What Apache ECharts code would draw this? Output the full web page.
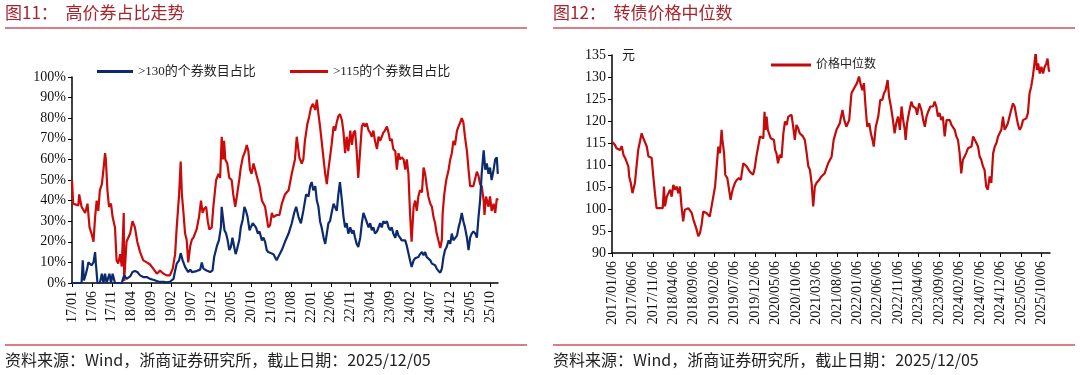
<!DOCTYPE html>
<html><head><meta charset="utf-8">
<script src="https://cdn.jsdelivr.net/npm/echarts@6/dist/echarts.min.js"></script>
<style>html,body{margin:0;padding:0;background:#fff}#c{width:1080px;height:375px}</style>
</head><body><div id="c"></div>
<script>
// x values are months elapsed since 2017/01/06
const leftTickLabels = ['17/01','17/06','17/11','18/04','18/09','19/02','19/07','19/12','20/05','20/10','21/03','21/08','22/01','22/06','22/11','23/04','23/09','24/02','24/07','24/12','25/05','25/10'];
const rightTickLabels = ['2017/01/06','2017/06/06','2017/11/06','2018/04/06','2018/09/06','2019/02/06','2019/07/06','2019/12/06','2020/05/06','2020/10/06','2021/03/06','2021/08/06','2022/01/06','2022/06/06','2022/11/06','2023/04/06','2023/09/06','2024/02/06','2024/07/06','2024/12/06','2025/05/06','2025/10/06'];
const leftYTicks = [0,10,20,30,40,50,60,70,80,90,100];
const rightYTicks = [90,95,100,105,110,115,120,125,130,135];

const share130 = [[0,0],[2.4,0],[2.7,11],[3.0,1.3],[3.5,4.5],[3.9,7.8],[4.1,10],[4.5,9.4],[4.9,8.6],[5.4,10],[5.8,15],[6.0,9.4],[6.4,0],[7.0,0],[7.5,4.5],[7.9,0],[8.3,4.5],[8.7,0],[9.4,4.5],[9.8,0],[10.2,4.5],[10.8,0],[12.5,0],[12.7,1.3],[13.1,3.7],[13.7,2],[14.2,2.8],[14.6,3.2],[15.2,5.3],[15.8,5.8],[16.4,5.3],[17.1,3.7],[17.9,2.9],[18.8,2.9],[19.6,2],[20.4,1.6],[21.3,1],[22.1,0.5],[23.0,0.6],[23.8,0.3],[24.6,0.6],[25.5,2],[25.9,6],[26.3,9.4],[26.9,11],[27.3,14.5],[27.8,11],[28.4,7.8],[28.8,6.5],[29.2,5.3],[29.7,6.5],[30.1,5.3],[30.5,6.1],[31.3,5.8],[32.2,6.5],[32.6,10],[33.0,7],[33.8,6.1],[34.3,7],[34.7,5.3],[35.3,6.1],[35.7,12.6],[36.4,18],[36.9,20.7],[37.4,27],[37.6,37],[37.9,32],[38.3,25.6],[38.7,24],[39.1,20.7],[39.5,16],[39.9,17.5],[40.3,22],[40.7,18],[41.1,14],[41.5,16.7],[42.0,20.7],[42.4,27],[42.9,31],[43.3,37],[43.7,35],[44.1,32],[44.6,25.6],[44.9,27],[45.4,29],[45.8,29],[46.2,27],[46.7,24],[47.1,25],[47.7,20.7],[48.1,22],[48.5,20],[48.9,16],[49.3,15],[49.75,15],[50.6,14],[51.4,11],[51.8,12.6],[52.7,16],[53.5,20],[54.4,24],[55.2,29],[55.8,34],[56.3,37],[56.9,32],[57.5,29],[58.1,35],[58.8,43],[59.4,42],[59.8,47],[60.2,49],[60.6,45],[61.1,47],[61.5,40],[61.9,37],[62.3,30],[62.7,27],[63.2,22],[63.6,19],[64.0,24],[64.4,29],[64.8,30],[65.2,34],[65.7,38.5],[66.1,38.5],[66.5,35],[66.9,43],[67.3,49],[67.8,40],[68.2,32],[68.6,27],[69.0,29],[69.4,24],[69.9,27],[70.3,24],[70.7,25.6],[71.1,22],[71.5,19],[71.9,17.5],[72.4,22],[72.8,29],[73.2,34],[73.6,32],[74.0,32],[74.5,27],[74.9,29],[75.3,25.6],[75.7,27],[76.1,24],[76.6,25],[77.0,27],[77.4,29],[77.8,27],[78.2,30],[78.6,29],[79.1,30],[79.5,27],[79.9,25.6],[80.3,27],[80.7,24],[81.2,22],[81.6,25.6],[82.0,23],[82.4,22],[82.8,20.7],[83.3,21],[83.7,20.7],[84.1,18],[84.5,17.5],[84.9,11],[85.3,7.8],[85.8,11],[86.2,12],[86.6,12.6],[87.0,12.6],[87.4,14],[87.9,15],[88.3,13.4],[88.7,15],[89.1,12.6],[89.5,12],[90.0,11],[90.4,9.4],[90.8,8.6],[91.2,8.6],[91.6,7],[92.0,6],[92.5,5],[92.9,7],[93.3,12.6],[93.7,16],[94.1,17.5],[94.6,20.7],[95.0,19],[95.4,24],[95.8,20.7],[96.2,20],[96.7,23],[97.1,27],[97.5,30],[97.9,34],[98.3,30],[98.7,27],[99.2,22],[99.6,16],[100.0,22],[100.4,24],[100.8,25],[101.3,24],[101.7,22],[102.1,32],[102.5,40],[102.9,53],[103.4,64.4],[103.8,55],[104.2,58],[104.6,53],[105.0,56],[105.4,50],[105.9,55],[106.3,60],[106.7,61],[106.95,53]];

const share115 = [[0,50],[0.3,38.5],[1.6,37.7],[1.8,43],[2.4,37],[3.3,34],[3.9,38.5],[4.4,27],[4.9,24],[5.4,20],[5.8,32],[6.2,40],[6.6,35],[7.0,45],[7.5,48],[7.9,55],[8.3,63],[8.5,60],[8.9,45],[9.3,37],[9.8,38.5],[10.2,32],[10.8,27],[11.2,11],[11.6,9.4],[12.1,14],[12.5,8],[13.0,34],[13.1,1],[13.7,20],[14.6,24],[15.2,30],[15.8,27],[16.4,20],[17.1,15],[17.9,11],[18.8,10],[19.6,9],[20.4,7],[21.3,4.5],[22.1,6],[23.0,4.5],[23.8,3.7],[24.6,3.7],[25.3,7],[25.9,14],[26.3,27],[26.9,43],[27.3,59],[27.6,43],[28.0,34],[28.4,24],[28.8,21],[29.2,10],[29.7,18],[30.1,21],[30.5,22],[31.3,26],[31.9,32],[32.4,40],[32.8,34],[33.2,36],[33.7,37],[34.1,30],[34.5,26],[35.1,27],[35.5,37],[36.2,50],[36.8,53],[37.2,51],[37.6,71],[37.9,60],[38.2,69],[38.5,60],[39.0,58],[39.5,51],[40.1,50],[40.5,43],[41.0,37],[41.4,42],[42.0,50],[42.4,56],[42.9,61],[43.5,64],[43.9,67],[44.3,64],[44.7,55],[45.1,53],[45.6,58],[46.0,55],[46.4,52],[47.1,47],[47.7,40],[48.5,37],[49.3,27],[49.75,28],[50.2,34],[50.6,32],[51.4,33],[52.1,33],[52.7,38.5],[53.5,43],[54.4,45],[55.2,53],[56.0,60],[56.45,71],[57.1,61],[57.7,58],[58.1,60],[58.5,69],[59.1,77],[59.6,81],[60.0,85],[60.5,87],[61.1,84],[61.5,89],[61.9,82],[62.3,76],[62.7,69],[63.2,60],[63.6,53],[64.0,48],[64.4,55],[64.8,61],[65.2,67],[65.7,76],[66.1,74],[66.5,78],[66.9,81],[67.3,82],[67.8,79],[68.2,73],[68.6,63],[69.0,71],[69.4,64],[69.9,74],[70.3,67],[70.7,73],[71.1,74],[71.5,64],[71.9,51],[72.4,65],[72.8,76],[73.2,77.5],[73.6,76],[74.0,77.5],[74.5,74],[74.9,73],[75.3,71],[75.7,74],[76.1,69],[76.6,65],[77.0,71],[77.4,69],[77.8,71],[78.2,73],[78.6,74],[79.1,76],[79.5,73],[79.9,69],[80.3,70],[80.7,65],[81.2,64],[81.6,55],[82.0,63],[82.4,60],[82.8,61],[83.3,60],[83.7,55],[84.1,60],[84.5,53],[84.9,34],[85.3,20],[85.8,37],[86.2,40],[86.6,35],[87.0,42],[87.4,45],[87.9,44],[88.3,56],[88.7,53],[89.1,47],[89.5,42],[90.0,38.5],[90.4,37],[90.8,32],[91.2,29],[91.6,24],[92.0,21],[92.5,17],[92.9,21],[93.1,34],[93.5,43],[94.0,50],[94.6,55],[95.0,60],[95.4,63],[95.8,69],[96.2,67],[96.7,74],[97.1,76],[97.5,78],[97.9,80],[98.3,78],[98.7,71],[99.2,64],[99.6,55],[100.0,47],[100.4,47],[100.8,47],[101.3,51],[101.7,54],[102.1,52],[102.5,48],[102.9,47],[103.4,40],[103.6,33],[104.0,42],[104.6,37],[105.0,42],[105.4,35],[105.9,38.5],[106.3,34],[106.7,41],[106.95,40]];

const medianPrice = [[0,115.3],[0.7,114.6],[1.1,113.8],[1.55,114.2],[1.95,113.4],[2.4,114.3],[2.8,112.3],[3.2,111.6],[3.6,111.2],[4.0,109.7],[4.2,107.4],[4.6,105.9],[5.0,103.6],[5.2,104],[5.6,105.9],[6.0,109.7],[6.4,113.4],[6.8,113],[7.25,117.2],[7.65,116.1],[8.1,116.5],[8.5,114.2],[8.9,112],[9.3,112],[9.7,111.6],[10.1,107.4],[10.5,103.6],[10.9,100.2],[11.3,99.8],[11.9,100.2],[12.4,100.2],[12.7,105.1],[12.95,100.6],[13.4,102.8],[13.8,103.6],[14.2,104.4],[14.6,102.8],[15.0,105.5],[15.4,104.4],[15.8,105.1],[16.2,103.6],[16.6,105.1],[17.0,100.6],[17.4,97.2],[17.8,99.8],[18.2,100.2],[18.65,100.2],[19.1,99.8],[19.5,99.1],[19.9,97.6],[20.3,97.2],[20.7,95.3],[21.1,93.8],[21.5,94.5],[21.9,96.4],[22.3,99.4],[22.7,99.4],[23.1,99.1],[23.5,98.7],[23.9,98.3],[24.35,100.6],[24.8,101],[25.2,105.1],[25.6,109.7],[26.0,114.2],[26.4,112.7],[26.8,118],[27.0,115.7],[27.4,112.7],[27.7,107.8],[28.2,107],[28.6,106.6],[29.0,102.1],[29.3,103.6],[29.6,104.7],[30.05,105.9],[30.5,106.6],[31.0,107],[31.5,106.6],[32.1,110.4],[32.5,110],[32.9,109.7],[33.3,109.3],[33.7,108.5],[34.1,108.1],[34.5,107.8],[34.9,109.3],[35.3,111.9],[35.75,114.2],[36.2,116.5],[36.6,116.1],[37.0,116.1],[37.3,122.1],[37.5,118],[37.8,121],[38.1,118],[38.4,118.4],[38.8,116.1],[39.2,115.7],[39.6,115.7],[39.9,113.4],[40.2,112.7],[40.6,110.4],[41.0,112.3],[41.45,111.6],[41.9,117.2],[42.3,119.9],[42.7,119.1],[43.1,121],[43.5,121.4],[43.9,121.4],[44.3,118.7],[44.7,115.7],[45.1,119.1],[45.5,118.4],[45.9,117.2],[46.7,116.5],[47.15,115.7],[47.6,112.7],[48.0,109.7],[48.4,108.9],[48.8,105.9],[49.2,100.6],[49.6,105.1],[50.0,105.9],[50.65,106.6],[51.2,107.4],[52.0,108.1],[52.85,110.4],[53.7,111.9],[54.2,115.7],[54.9,118],[55.7,119.5],[56.35,122.5],[56.8,120.2],[57.3,118.7],[58.0,120.2],[58.55,126.3],[59.4,127.8],[59.9,128.6],[60.4,130.1],[60.75,128.6],[61.2,127],[61.6,128.6],[62.0,123.3],[62.4,118.7],[62.9,119.5],[63.3,117.2],[63.7,115.7],[64.0,114.2],[64.5,118.7],[65.1,121],[65.6,124.8],[66.1,124.8],[66.5,126.3],[66.9,127],[67.4,129.3],[67.75,125.5],[68.2,123.3],[68.7,120.2],[69.1,117.2],[69.5,119.5],[69.95,121],[70.4,118],[70.8,123.3],[71.2,120.2],[71.6,118],[71.8,115.7],[72.15,119.5],[72.6,121.8],[73.2,124.4],[73.6,123.3],[74.3,122.9],[74.6,121.4],[75.1,124],[75.65,122.5],[76.1,120.2],[76.5,118.7],[76.9,121],[77.3,122.1],[77.85,123.3],[78.5,123.3],[78.9,124.4],[79.3,123.3],[79.7,121],[80.1,121.8],[80.5,120.2],[80.9,121],[81.35,116.5],[81.8,120.2],[82.2,120.6],[82.6,120.2],[83.0,119.1],[83.4,118.7],[83.8,118],[84.2,116.5],[84.6,115.7],[85.0,112.7],[85.4,108.1],[85.8,111.2],[86.2,111.9],[86.6,112.7],[87.05,113.8],[87.5,113.4],[87.9,114.2],[88.3,116.5],[88.7,116.5],[89.1,115],[89.5,114.2],[89.9,111.9],[90.3,111.2],[90.7,109.7],[91.1,108.9],[91.5,105.1],[91.9,104.4],[92.35,107.4],[92.75,105.9],[93.2,112.7],[93.6,114.2],[94.0,115],[94.4,116.5],[94.8,116.5],[95.2,118],[95.6,121],[96.0,118],[96.4,118.7],[96.8,119.5],[97.2,121],[97.6,122.5],[98.05,124],[98.45,123.3],[98.9,121],[99.3,119.1],[99.7,118],[100.1,118.7],[100.5,120.2],[100.9,120.2],[101.3,120.6],[101.7,121.8],[102.1,126.3],[102.5,127.8],[102.9,130.1],[103.3,133.1],[103.6,135.8],[103.9,131.6],[104.2,133.1],[104.6,130.8],[105.0,132.3],[105.4,130.8],[105.8,132.3],[106.2,133.1],[106.5,134.2],[106.8,131.6],[107.0,131.2]];

const SERIF = "'Liberation Serif','Times New Roman','Noto Sans CJK SC',serif";
const CJK = "'Noto Sans CJK SC','Liberation Serif',serif";
const TITLE_RED = '#a8232d';
const RULE_RED = '#d0525a';

function xAxisCfg(gridIndex, labels, max, margin) {
  return {
    type: 'value', gridIndex, min: 0, max, interval: 5,
    axisLine: { show: true, onZero: false, lineStyle: { color: '#000', width: 1.5 } },
    axisTick: { show: true, length: 4, lineStyle: { color: '#000', width: 1 } },
    splitLine: { show: false },
    axisLabel: {
      rotate: 90, margin, color: '#111', fontFamily: SERIF, fontSize: 14,
      showMaxLabel: false,
      formatter: v => (v % 5 === 0 && labels[v / 5] !== undefined) ? labels[v / 5] : ''
    }
  };
}
function yAxisCfg(gridIndex, ticks, fmt) {
  return {
    type: 'value', gridIndex, min: ticks[0], max: ticks[ticks.length - 1],
    interval: ticks[1] - ticks[0],
    axisLine: { show: true, lineStyle: { color: '#000', width: 1.5 } },
    axisTick: { show: true, length: 4, lineStyle: { color: '#000', width: 1 } },
    splitLine: { show: false },
    axisLabel: { color: '#111', fontFamily: SERIF, fontSize: 14, margin: 6, formatter: fmt }
  };
}

const chart = echarts.init(document.getElementById('c'), null, { renderer: 'canvas' });
chart.setOption({
  animation: false,
  backgroundColor: '#fff',
  grid: [
    { left: 72, top: 77, width: 426, height: 206 },
    { left: 612, top: 55, width: 438, height: 198 }
  ],
  xAxis: [xAxisCfg(0, leftTickLabels, 107, 8), xAxisCfg(1, rightTickLabels, 107.1, 8)],
  yAxis: [yAxisCfg(0, leftYTicks, '{value}%'), yAxisCfg(1, rightYTicks, '{value}')],
  legend: [
    { data: ['>130的个券数目占比'], left: 92, top: 60, icon: 'rect', itemWidth: 36, itemHeight: 3, itemGap: 6,
      textStyle: { fontFamily: SERIF, fontSize: 13, color: '#222' } },
    { data: ['>115的个券数目占比'], left: 285, top: 60, icon: 'rect', itemWidth: 38, itemHeight: 3,
      textStyle: { fontFamily: SERIF, fontSize: 13, color: '#222' } },
    { data: ['价格中位数'], left: 766, top: 54, icon: 'rect', itemWidth: 40, itemHeight: 3,
      textStyle: { fontFamily: SERIF, fontSize: 12, color: '#222' } }
  ],
  series: [
    { name: '>115的个券数目占比', type: 'line', xAxisIndex: 0, yAxisIndex: 0, data: share115,
      showSymbol: false, z: 2, lineStyle: { color: '#cc0a0a', width: 2.2 }, itemStyle: { color: '#cc0a0a' } },
    { name: '>130的个券数目占比', type: 'line', xAxisIndex: 0, yAxisIndex: 0, data: share130,
      showSymbol: false, z: 3, lineStyle: { color: '#0c2a6e', width: 2.2 }, itemStyle: { color: '#0c2a6e' } },
    { name: '价格中位数', type: 'line', xAxisIndex: 1, yAxisIndex: 1, data: medianPrice,
      showSymbol: false, z: 2, lineStyle: { color: '#c40a0a', width: 2.2 }, itemStyle: { color: '#c40a0a' } }
  ],
  graphic: [
    { type: 'text', left: 5, top: 4, style: { text: '图11：  高价券占比走势', fill: TITLE_RED, font: '17px ' + CJK } },
    { type: 'text', left: 553, top: 4, style: { text: '图12：  转债价格中位数', fill: TITLE_RED, font: '17px ' + CJK } },
    { type: 'line', shape: { x1: 5, y1: 28, x2: 527, y2: 28 }, style: { stroke: RULE_RED, lineWidth: 1.5 } },
    { type: 'line', shape: { x1: 553, y1: 28, x2: 1075, y2: 28 }, style: { stroke: RULE_RED, lineWidth: 1.5 } },
    { type: 'line', shape: { x1: 5, y1: 345, x2: 527, y2: 345 }, style: { stroke: RULE_RED, lineWidth: 1.5 } },
    { type: 'line', shape: { x1: 553, y1: 345, x2: 1075, y2: 345 }, style: { stroke: RULE_RED, lineWidth: 1.5 } },
    { type: 'text', left: 5, top: 352, style: { text: '资料来源：Wind，浙商证券研究所，截止日期：2025/12/05', fill: '#222', font: '16px ' + CJK } },
    { type: 'text', left: 553, top: 352, style: { text: '资料来源：Wind，浙商证券研究所，截止日期：2025/12/05', fill: '#222', font: '16px ' + CJK } },
    { type: 'text', left: 622, top: 48, style: { text: '元', fill: '#222', font: '13px ' + CJK } }
  ]
});
</script></body></html>
